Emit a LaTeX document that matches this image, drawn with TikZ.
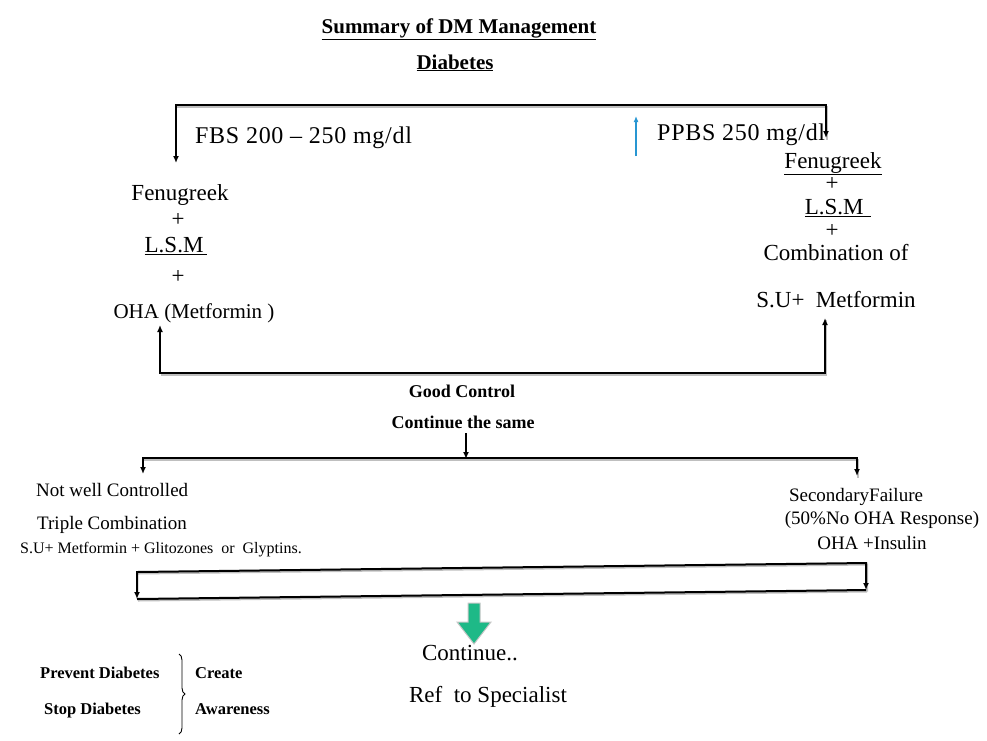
\documentclass[tikz,border=0pt]{standalone}
\usepackage{fontspec}
\setmainfont{Liberation Serif}
\usetikzlibrary{arrows.meta,decorations.pathreplacing}
\begin{document}
\begin{tikzpicture}[x=1pt,y=-1pt,
  ln/.style={line width=2pt, black, line join=miter},
  shd/.style={line width=2pt, black!25, line join=miter, transform canvas={xshift=1.2pt,yshift=-1.5pt}},
  tip/.style={-{Latex[length=7pt,width=6pt]}},
  both/.style={{Latex[length=7pt,width=6pt]}-{Latex[length=7pt,width=6pt]}},
  big/.style={inner sep=0pt, anchor=base, font=\fontsize{23}{26}\selectfont},
  wide/.style={inner sep=0pt, anchor=base west, font=\fontsize{24}{27}\selectfont\addfontfeatures{LetterSpace=3}},
  mid/.style={inner sep=0pt, anchor=base, font=\fontsize{19}{22}\selectfont},
  small/.style={inner sep=0pt, anchor=base west, font=\fontsize{16}{18}\selectfont},
  hbold/.style={inner sep=0pt, anchor=base, font=\fontsize{21}{24}\selectfont\bfseries},
  mbold/.style={inner sep=0pt, anchor=base, font=\fontsize{18}{21}\selectfont\bfseries},
  sbold/.style={inner sep=0pt, anchor=base west, font=\fontsize{16.5}{19}\selectfont\bfseries},
]
\useasboundingbox (0,0) rectangle (987,740);
\definecolor{arrowblue}{RGB}{40,150,210}
\definecolor{arrowgreen}{RGB}{30,185,135}

% titles
\node[hbold] (title) at (459,33) {\underline{Summary of DM Management}};
\node[hbold] (diab) at (455,69) {\underline{Diabetes}};

% top bracket
\coordinate (tlA) at (176,163);
\coordinate (tlB) at (176,105);
\coordinate (trB) at (826,105);
\coordinate (trA) at (826,138);
\draw[shd] (tlB) -- (trB) -- (trA);
\draw[ln,both] (tlA) -- (tlB) -- (trB) -- (trA);

\node[wide] (fbs) at (195,143) {FBS 200 -- 250 mg/dl};
\node[wide] (ppbs) at (657,140) {PPBS 250 mg/dl};
\coordinate (bluA) at (636,156);
\coordinate (bluB) at (636,116);
\draw[line width=1.6pt, arrowblue, -{Latex[length=6pt,width=5pt]}] (bluA) -- (bluB);

% left column
\node[big] (lfen) at (180,200) {Fenugreek};
\node[big] (lp1) at (178,226) {+};
\node[big] (llsm) at (176,252) {\underline{L.S.M\,}};
\node[big] (lp2) at (178,283) {+};
\node[big, font=\fontsize{21}{24}\selectfont] (loha) at (194,318) {OHA (Metformin )};

% right column
\node[big] (rfen) at (833,168) {\underline{Fenugreek}};
\node[big] (rp1) at (832,190) {+};
\node[big] (rlsm) at (838,214) {\underline{L.S.M\,\,}};
\node[big] (rp2) at (832,237) {+};
\node[big] (rcomb) at (836,260) {Combination of};
\node[big] (rsu) at (836,307) {S.U+\ \ Metformin};

% lower bracket with up arrows
\coordinate (blA) at (160,325);
\coordinate (blB) at (160,373);
\coordinate (brB) at (825,373);
\coordinate (brA) at (825,318);
\draw[shd] (blB) -- (brB) -- (brA);
\draw[ln,both] (blA) -- (blB) -- (brB) -- (brA);

\node[mbold] (good) at (462,397) {Good Control};
\node[mbold] (cont) at (463,428) {Continue the same};
\coordinate (mtop) at (466,433);
\coordinate (mbot) at (466,459);
\draw[ln, line width=1.6pt, tip] (mtop) -- (mbot);

% middle bracket
\coordinate (mlA) at (143,474);
\coordinate (mlB) at (143,458);
\coordinate (mrB) at (857,458);
\coordinate (mrA) at (857,476);
\draw[shd] (mlB) -- (mrB) -- (mrA);
\draw[ln,both] (mlA) -- (mlB) -- (mrB) -- (mrA);

\node[mid, anchor=base west] (nwc) at (36,496) {Not well Controlled};
\node[mid, anchor=base west] (tc) at (37,529) {Triple Combination};
\node[small] (sug) at (20,553) {S.U+ Metformin + Glitozones\ \ or\ \ Glyptins.};

\node[mid] (sf) at (856,501) {SecondaryFailure};
\node[mid] (no) at (882,524) {(50\%No OHA Response)};
\node[mid] (ohai) at (872,549) {OHA +Insulin};

% skewed bottom band
\coordinate (kA) at (137,599);
\coordinate (kB) at (137,572);
\coordinate (kC) at (866,563);
\coordinate (kD) at (866,590);
\draw[shd] (kB) -- (kC) -- (kD);
\draw[shd] (kA) -- (kD);
\draw[ln,both] (kA) -- (kB) -- (kC) -- (kD);
\draw[ln] (kA) -- (kD);

% green block arrow
\coordinate (g0) at (474,603);
\draw[gray!45, line width=1pt, fill=arrowgreen, line join=miter]
  ([xshift=-6pt]g0) -- ++(0,19) -- ++(-11,0) -- (474,644) -- (491,622) -- ++(-11,0) -- ++(0,-19) -- cycle;

\node[big] (cn) at (470,660) {Continue..};
\node[big] (ref) at (488,702) {Ref\ \ to Specialist};

\node[sbold] (prev) at (40,678) {Prevent Diabetes};
\node[sbold] (stop) at (44,714) {Stop Diabetes};
\coordinate (brT) at (179,654);
\coordinate (brD) at (179,734);
\draw[line width=0.9pt, decorate, decoration={brace, amplitude=6pt}] (brT) -- (brD);
\node[sbold] (cre) at (195,678) {Create};
\node[sbold] (awa) at (195,714) {Awareness};
\end{tikzpicture}
\end{document}
